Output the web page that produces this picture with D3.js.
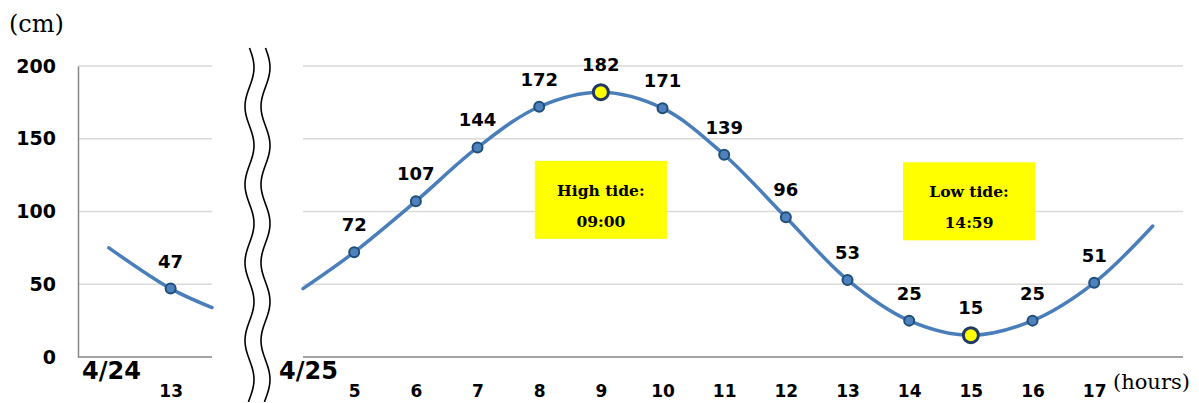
<!DOCTYPE html>
<html>
<head>
<meta charset="utf-8">
<script src="https://cdn.jsdelivr.net/npm/d3@7"></script>
<style>
  body { margin: 0; background: #fff; }
  svg { display: block; }
</style>
</head>
<body>
<div id="chart"></div>
<script>
// tide level (cm) on 4/24 (left panel) and 4/25 (right panel)
const leftHours = [13];
const leftValues = [47];
const leftCurveHours = [12, 13, 13.67];
const leftCurveValues = [75, 47, 34];

const rightHours = [5, 6, 7, 8, 9, 10, 11, 12, 13, 14, 15, 16, 17];
const rightValues = [72, 107, 144, 172, 182, 171, 139, 96, 53, 25, 15, 25, 51];
const rightCurveHours = [4.17, 5, 6, 7, 8, 9, 10, 11, 12, 13, 14, 15, 16, 17, 17.95];
const rightCurveValues = [47, 72, 107, 144, 172, 182, 171, 139, 96, 53, 25, 15, 25, 51, 90];

const highlightHours = [9, 15];
const yTicks = [0, 50, 100, 150, 200];

const tideNotes = [
  { hour: 9, level: 108, lines: ["High tide:", "09:00"] },
  { hour: 14.97, level: 107, lines: ["Low tide:", "14:59"] }
];

const W = 1199, H = 403;
const svg = d3.select("#chart").append("svg")
  .attr("width", W).attr("height", H);

const y = d3.scaleLinear().domain([0, 200]).range([357, 66]);
const xL = d3.scaleLinear().domain([11.5, 13.67]).range([78, 212]);
const xR = d3.scaleLinear().domain([4.17, 18.44]).range([303, 1183]);

const numFont = "'DejaVu Sans', sans-serif";
const serifFont = "'DejaVu Serif', serif";

// gridlines
function grid(x) {
  const [a, b] = x.range();
  svg.append("g")
    .selectAll("line").data(yTicks.filter(d => d > 0)).join("line")
      .attr("x1", a).attr("x2", b)
      .attr("y1", d => y(d)).attr("y2", d => y(d))
      .attr("stroke", "#d9d9d9").attr("stroke-width", 1.5);
  svg.append("line")
    .attr("x1", a).attr("x2", b).attr("y1", y(0)).attr("y2", y(0))
    .attr("stroke", "#868686").attr("stroke-width", 1.5);
}
grid(xL);
grid(xR);

// y axis
const yAxis = svg.append("g")
  .attr("transform", `translate(${xL.range()[0]},0)`)
  .call(d3.axisLeft(y).tickValues(yTicks).tickSize(0).tickPadding(22));
yAxis.select(".domain").attr("stroke", "#868686").attr("stroke-width", 1.5);
yAxis.selectAll("text")
  .attr("font-family", numFont).attr("font-weight", "bold")
  .attr("font-size", 19).attr("fill", "#000");

svg.append("text")
  .attr("x", 9).attr("y", 32)
  .attr("font-family", serifFont).attr("font-size", 24)
  .text("(cm)");

// x axes
function xAxis(x, ticks) {
  const g = svg.append("g")
    .attr("transform", `translate(0,${y(0)})`)
    .call(d3.axisBottom(x).tickValues(ticks).tickSize(0).tickFormat(d3.format("d")));
  g.select(".domain").remove();
  g.selectAll("text")
    .attr("y", 40).attr("dy", 0)
    .attr("font-family", numFont).attr("font-weight", "bold")
    .attr("font-size", 17).attr("fill", "#000");
}
xAxis(xL, leftHours);
xAxis(xR, rightHours);

svg.append("text")
  .attr("x", 1113).attr("y", 389)
  .attr("font-family", serifFont).attr("font-size", 21)
  .text("(hours)");

// date labels
const dates = [{ x: 82, t: "4/24" }, { x: 279, t: "4/25" }];
svg.selectAll(".date").data(dates).join("text")
  .attr("x", d => d.x).attr("y", 379)
  .attr("font-family", numFont).attr("font-weight", "bold")
  .attr("font-size", 24).attr("fill", "#000")
  .text(d => d.t);

// break marks
const wave = d3.line().curve(d3.curveBasis);
[249.5, 265.5].forEach(cx => {
  const pts = d3.range(48, 404, 2).map(py => [cx + 4.5 * Math.sin((py - 48) / 78 * 2 * Math.PI), py]);
  svg.append("path")
    .attr("d", wave(pts))
    .attr("fill", "none").attr("stroke", "#000").attr("stroke-width", 1.6);
});

// tide curves
function series(x, curveH, curveV, hours, values) {
  const line = d3.line()
    .x((d, i) => x(curveH[i]))
    .y(d => y(d))
    .curve(d3.curveCatmullRom.alpha(0.5));
  svg.append("path")
    .attr("d", line(curveV))
    .attr("fill", "none").attr("stroke", "#4a7ebb").attr("stroke-width", 3.5)
    .attr("stroke-linecap", "round");

  const pts = hours.map((h, i) => ({ h, v: values[i], hi: highlightHours.includes(h) && x === xR }));
  svg.append("g").selectAll("circle").data(pts).join("circle")
    .attr("cx", d => x(d.h)).attr("cy", d => y(d.v))
    .attr("r", d => d.hi ? 7.5 : 5)
    .attr("fill", d => d.hi ? "#ffff00" : "#4f81bd")
    .attr("stroke", d => d.hi ? "#1f3864" : "#1f4e79")
    .attr("stroke-width", d => d.hi ? 3 : 2);

  svg.append("g").selectAll("text").data(pts).join("text")
    .attr("x", d => x(d.h)).attr("y", d => y(d.v) - 21)
    .attr("text-anchor", "middle")
    .attr("font-family", numFont).attr("font-weight", "bold")
    .attr("font-size", 18).attr("fill", "#000")
    .text(d => d.v);
}
series(xL, leftCurveHours, leftCurveValues, leftHours, leftValues);
series(xR, rightCurveHours, rightCurveValues, rightHours, rightValues);

// tide notes
const boxW = 132, boxH = 78;
const note = svg.selectAll(".note").data(tideNotes).join("g")
  .attr("transform", d => `translate(${xR(d.hour)},${y(d.level)})`);
note.append("rect")
  .attr("x", -boxW / 2).attr("y", -boxH / 2)
  .attr("width", boxW).attr("height", boxH)
  .attr("fill", "#ffff00");
note.selectAll("text").data(d => d.lines).join("text")
  .attr("x", 0).attr("y", (d, i) => -4 + i * 31)
  .attr("text-anchor", "middle")
  .attr("font-family", serifFont).attr("font-weight", "bold")
  .attr("font-size", 15.5).attr("fill", "#000")
  .text(d => d);
</script>
</body>
</html>
